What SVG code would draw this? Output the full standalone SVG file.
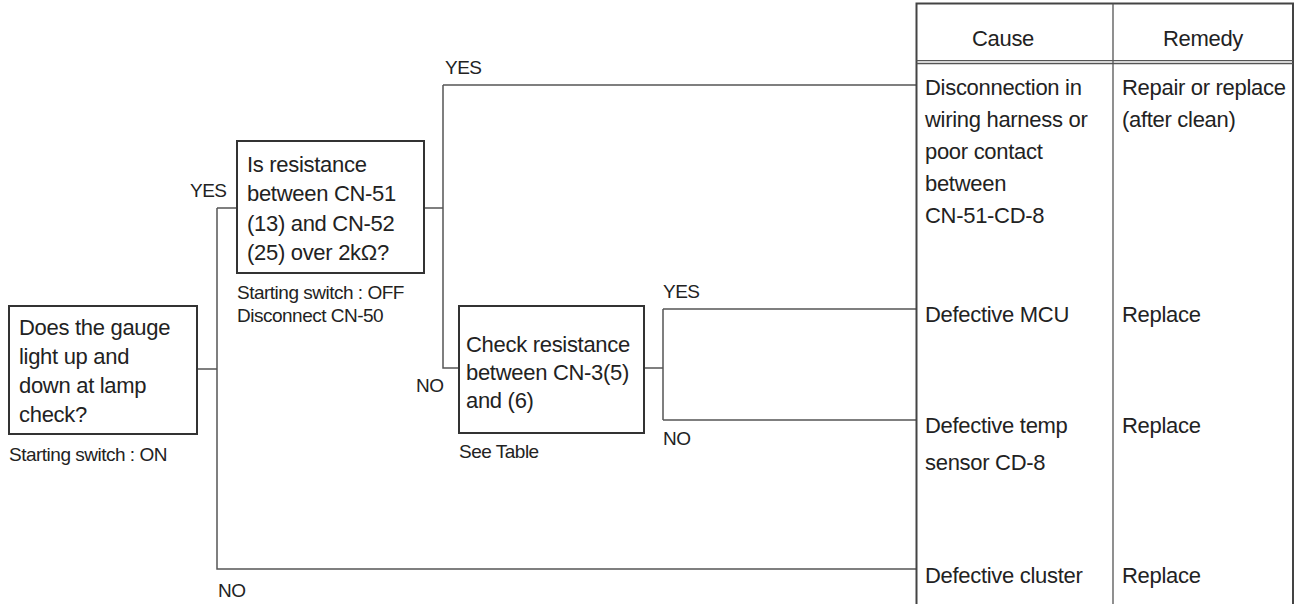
<svg xmlns="http://www.w3.org/2000/svg" width="1302" height="604" viewBox="0 0 1302 604">
<style>
.bg{fill:#ffffff}
.box{fill:#ffffff;stroke:#333333;stroke-width:2}
.ln{fill:none;stroke:#555555;stroke-width:1.5}
.tb{fill:none;stroke:#444444;stroke-width:2}
.tb1{fill:none;stroke:#555555;stroke-width:1.3}
.t{font-family:"Liberation Sans",Arial,sans-serif;font-size:22px;letter-spacing:-0.3px;fill:#222222}
.s{font-family:"Liberation Sans",Arial,sans-serif;font-size:19px;letter-spacing:-0.5px;fill:#222222}
</style>
<rect class="bg" x="0" y="0" width="1302" height="604"/>
<g id="connectors">
<path class="ln" d="M197,369 H217 M217,208 V569 H916 M217,208 H237"/>
<path class="ln" d="M424,208 H443 M443,85 V368 H459 M443,85 H916"/>
<path class="ln" d="M644,368 H663 M663,309 V420 M663,309 H916 M663,420 H916"/>
<text class="s" x="190" y="197">YES</text>
<text class="s" x="218" y="597">NO</text>
<text class="s" x="445" y="74">YES</text>
<text class="s" x="416" y="392">NO</text>
<text class="s" x="663" y="298">YES</text>
<text class="s" x="663" y="445">NO</text>
</g>
<g id="node-gauge">
<rect class="box" x="9" y="306" width="188" height="128"/>
<text class="t" x="19" y="335">Does the gauge</text>
<text class="t" x="19" y="364">light up and</text>
<text class="t" x="19" y="393">down at lamp</text>
<text class="t" x="19" y="422">check?</text>
<text class="s" x="9" y="461">Starting switch : ON</text>
</g>
<g id="node-resistance">
<rect class="box" x="237" y="141" width="187" height="132"/>
<text class="t" x="247" y="172">Is resistance</text>
<text class="t" x="247" y="201">between CN-51</text>
<text class="t" x="247" y="231">(13) and CN-52</text>
<text class="t" x="247" y="260">(25) over 2kΩ?</text>
<text class="s" x="237" y="299">Starting switch : OFF</text>
<text class="s" x="237" y="322">Disconnect CN-50</text>
</g>
<g id="node-check">
<rect class="box" x="459" y="306" width="185" height="127"/>
<text class="t" x="466" y="352">Check resistance</text>
<text class="t" x="466" y="380">between CN-3(5)</text>
<text class="t" x="466" y="408">and (6)</text>
<text class="s" x="459" y="458">See Table</text>
</g>
<g id="table">
<path class="tb" d="M916.5,604 V3.5 H1293 V604"/>
<path class="tb1" d="M1113,3.5 V604 M916.5,60.7 H1293 M916.5,63.5 H1293"/>
<text class="t" x="1003" y="46" text-anchor="middle">Cause</text>
<text class="t" x="1203" y="46" text-anchor="middle">Remedy</text>
<text class="t" x="925" y="95">Disconnection in</text>
<text class="t" x="925" y="127">wiring harness or</text>
<text class="t" x="925" y="159">poor contact</text>
<text class="t" x="925" y="191">between</text>
<text class="t" x="925" y="223">CN-51-CD-8</text>
<text class="t" x="1122" y="95">Repair or replace</text>
<text class="t" x="1122" y="127">(after clean)</text>
<text class="t" x="925" y="322">Defective MCU</text>
<text class="t" x="1122" y="322">Replace</text>
<text class="t" x="925" y="433">Defective temp</text>
<text class="t" x="925" y="470">sensor CD-8</text>
<text class="t" x="1122" y="433">Replace</text>
<text class="t" x="925" y="583">Defective cluster</text>
<text class="t" x="1122" y="583">Replace</text>
</g>
</svg>
